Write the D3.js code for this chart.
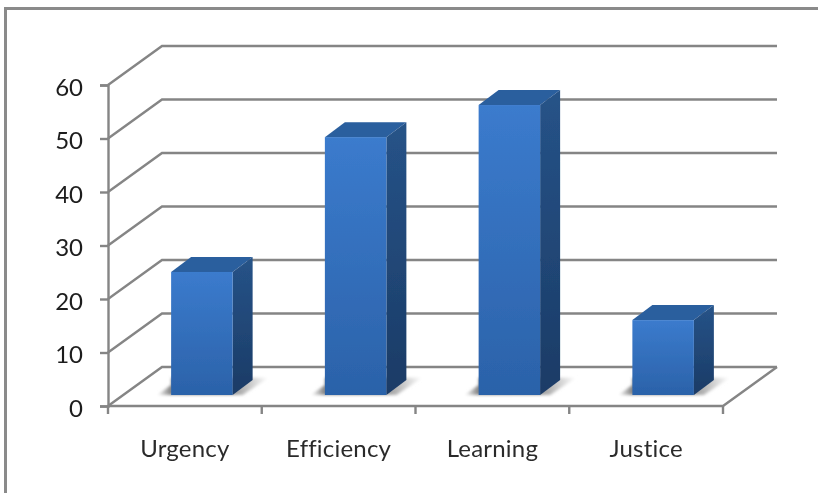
<!DOCTYPE html>
<html>
<head>
<meta charset="utf-8">
<script src="https://cdn.jsdelivr.net/npm/d3@7"></script>
<style>
  html, body { margin: 0; padding: 0; background: #fff; overflow: hidden; }
  text { font-family: Lato, "Open Sans", sans-serif; }
</style>
</head>
<body>
<div id="chart"></div>
<script>
/**
 * DATA
 * */
const categories = ["Urgency", "Efficiency", "Learning", "Justice"];
const values = [23, 48.2, 54.2, 14];
const yTicks = [0, 10, 20, 30, 40, 50, 60];

/**
 * LAYOUT
 * */
const width = 818, height = 493;
const wall = { dx: 54, dy: -39 };   // depth of the floor
const depth = { dx: 20, dy: -15 };  // depth of one bar
const barShift = { dx: 17, dy: -11 }; // bars stand inside the floor

const x = d3.scaleBand().domain(categories).range([108, 723]).paddingInner(0.6).paddingOuter(0.3);
const y = d3.scaleLinear().domain([0, 60]).range([406, 85]);

const svg = d3.select("#chart").append("svg")
  .attr("width", width)
  .attr("height", height)
  .style("display", "block");

const defs = svg.append("defs");

defs.append("filter").attr("id", "soft").attr("x", "-5%").attr("y", "-5%").attr("width", "110%").attr("height", "110%")
  .append("feGaussianBlur").attr("stdDeviation", 0.6);
defs.append("filter").attr("id", "shadowBlur").attr("x", "-10%").attr("y", "-20%").attr("width", "120%").attr("height", "140%")
  .append("feGaussianBlur").attr("stdDeviation", 1.5);

function gradient(id, stops, horizontal) {
  const g = defs.append("linearGradient").attr("id", id)
    .attr("x1", 0).attr("y1", 0)
    .attr("x2", horizontal ? 1 : 0).attr("y2", horizontal ? 0 : 1);
  stops.forEach(s => g.append("stop").attr("offset", s[0]).attr("stop-color", s[1]));
}
gradient("frontFill", [[0, "#3b7bcd"], [1, "#2b62a9"]]);
gradient("sideFill", [[0, "#265388"], [1, "#1b3b66"]]);
gradient("shadowFill", [[0, "#ffffff"], [0.12, "#858585"], [0.65, "#909090"], [1, "#ffffff"]], true);

// chart frame
svg.append("path")
  .attr("d", `M5.5,${height}V8.5H${width}`)
  .attr("fill", "none")
  .attr("stroke", "#8a8a8a")
  .attr("stroke-width", 3);

const soft = svg.append("g").attr("filter", "url(#soft)");

// gridlines on the side wall and back wall
soft.append("g").selectAll("path")
  .data(yTicks)
  .join("path")
  .attr("d", d => `M108,${y(d)}L${108 + wall.dx},${y(d) + wall.dy}H${723 + wall.dx}`)
  .attr("fill", "none")
  .attr("stroke", "#858585")
  .attr("stroke-width", 2.4);

// floor front edge and right edge
soft.append("path")
  .attr("d", `M108,${y(0)}H723L${723 + wall.dx},${y(0) + wall.dy}`)
  .attr("fill", "none")
  .attr("stroke", "#858585")
  .attr("stroke-width", 2.4);

// y axis
const yAxis = soft.append("g")
  .attr("transform", "translate(108,0)")
  .call(d3.axisLeft(y).tickValues(yTicks).tickSize(8).tickPadding(17));
yAxis.selectAll("line, path").attr("stroke", "#858585").attr("stroke-width", 2.4);
yAxis.selectAll("text").attr("font-size", 24).attr("font-family", "Lato, sans-serif").attr("fill", "#1c1c1c").attr("dy", "0.42em");

// category axis, ticks sit between the categories
const xAxis = soft.append("g")
  .attr("transform", `translate(0,${y(0)})`)
  .call(d3.axisBottom(x).tickSize(0).tickPadding(34));
xAxis.select("path").remove();
xAxis.selectAll("text").attr("font-size", 24).attr("font-family", "Lato, sans-serif").attr("fill", "#2c2c2c").attr("letter-spacing", 0.2);
xAxis.append("g").selectAll("line")
  .data(d3.range(categories.length + 1))
  .join("line")
  .attr("x1", d => x.range()[0] + d * x.step())
  .attr("x2", d => x.range()[0] + d * x.step())
  .attr("y1", 0)
  .attr("y2", 8)
  .attr("stroke", "#858585")
  .attr("stroke-width", 2.4);

// bars
const bars = soft.append("g").selectAll("g")
  .data(categories.map((c, i) => ({ c, v: values[i] })))
  .join("g")
  .attr("transform", d => `translate(${x(d.c) + barShift.dx},${barShift.dy})`);

const bw = x.bandwidth();

bars.append("path")
  .attr("d", `M-14,${y(0)}L0,${y(0) - 10}V${y(0) + depth.dy * 1.15}H${bw + 36}L${bw + 10},${y(0)}Z`)
  .attr("fill", "url(#shadowFill)")
  .attr("filter", "url(#shadowBlur)");

bars.append("path")
  .attr("d", d => `M0,${y(d.v)}l${depth.dx},${depth.dy}h${bw}l${-depth.dx},${-depth.dy}Z`)
  .attr("fill", "#2a5e9e");

bars.append("path")
  .attr("d", d => `M${bw},${y(d.v)}l${depth.dx},${depth.dy}V${y(0) + depth.dy}L${bw},${y(0)}Z`)
  .attr("fill", "url(#sideFill)");

bars.append("rect")
  .attr("x", 0)
  .attr("y", d => y(d.v))
  .attr("width", bw)
  .attr("height", d => y(0) - y(d.v))
  .attr("fill", "url(#frontFill)");
</script>
</body>
</html>
